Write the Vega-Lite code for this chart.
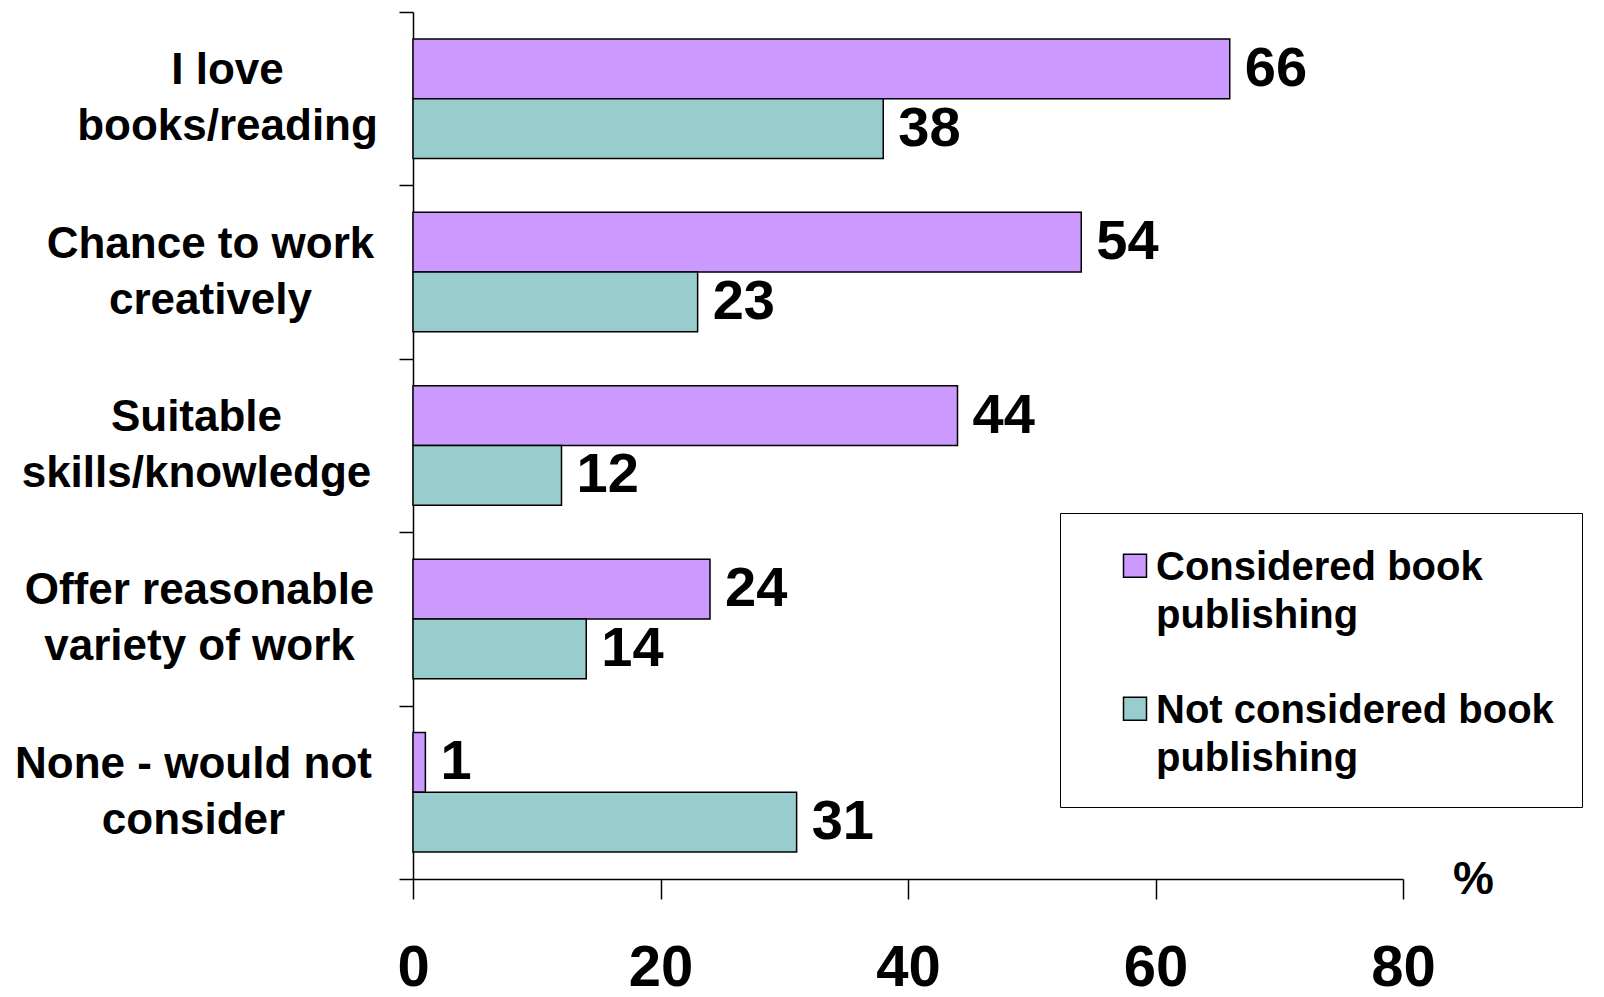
{
  "$schema": "https://vega.github.io/schema/vega-lite/v6.json",
  "autosize": {"type": "none"},
  "padding": {"left": 413, "top": 12, "right": 201, "bottom": 118},
  "width": 990,
  "height": 867,
  "background": "white",
  "config": {
    "view": {"stroke": null},
    "font": "Liberation Sans",
    "axis": {"labelFont": "Liberation Sans", "titleFont": "Liberation Sans", "labelColor": "black", "titleColor": "black", "domainColor": "black", "tickColor": "black", "grid": false},
    "legend": {"labelFont": "Liberation Sans"}
  },
  "data": {
    "values": [
      {"reason": "I love books/reading", "group": "Considered book publishing", "pct": 66},
      {"reason": "I love books/reading", "group": "Not considered book publishing", "pct": 38},
      {"reason": "Chance to work creatively", "group": "Considered book publishing", "pct": 54},
      {"reason": "Chance to work creatively", "group": "Not considered book publishing", "pct": 23},
      {"reason": "Suitable skills/knowledge", "group": "Considered book publishing", "pct": 44},
      {"reason": "Suitable skills/knowledge", "group": "Not considered book publishing", "pct": 12},
      {"reason": "Offer reasonable variety of work", "group": "Considered book publishing", "pct": 24},
      {"reason": "Offer reasonable variety of work", "group": "Not considered book publishing", "pct": 14},
      {"reason": "None - would not consider", "group": "Considered book publishing", "pct": 1},
      {"reason": "None - would not consider", "group": "Not considered book publishing", "pct": 31}
    ]
  },
  "encoding": {
    "y": {
      "field": "reason",
      "type": "nominal",
      "sort": ["I love books/reading", "Chance to work creatively", "Suitable skills/knowledge", "Offer reasonable variety of work", "None - would not consider"],
      "scale": {"paddingInner": 0, "paddingOuter": 0},
      "axis": {
        "title": null,
        "domainWidth": 1.5,
        "tickWidth": 1.5,
        "tickSize": 14,
        "tickBand": "extent",
        "labelFontSize": 44,
        "labelFontWeight": "bold",
        "labelLineHeight": 56,
        "labelAlign": "center",
        "labelBaseline": "middle",
        "labelOffset": -28,
        "labelLimit": 1000,
        "labelPadding": {
          "condition": [
            {"test": "datum.value == 'I love books/reading'", "value": 172},
            {"test": "datum.value == 'Chance to work creatively'", "value": 189},
            {"test": "datum.value == 'Suitable skills/knowledge'", "value": 203},
            {"test": "datum.value == 'Offer reasonable variety of work'", "value": 200}
          ],
          "value": 206
        },
        "labelExpr": "datum.value == 'I love books/reading' ? ['I love', 'books/reading'] : datum.value == 'Chance to work creatively' ? ['Chance to work', 'creatively'] : datum.value == 'Suitable skills/knowledge' ? ['Suitable', 'skills/knowledge'] : datum.value == 'Offer reasonable variety of work' ? ['Offer reasonable', 'variety of work'] : datum.value == 'None - would not consider' ? ['None - would not', 'consider'] : ''"
      }
    },
    "yOffset": {
      "field": "group",
      "type": "nominal",
      "sort": ["Considered book publishing", "Not considered book publishing"],
      "scale": {"paddingInner": 0, "paddingOuter": 0.451}
    },
    "x": {
      "field": "pct",
      "type": "quantitative",
      "scale": {"domain": [0, 80], "nice": false},
      "axis": {
        "values": [0, 20, 40, 60, 80],
        "title": "%",
        "titleFontSize": 46,
        "titleFontWeight": "bold",
        "titleX": 1060,
        "titleY": 0,
        "titleAlign": "center",
        "titleBaseline": "middle",
        "titleAnchor": null,
        "domainWidth": 1.5,
        "tickWidth": 1.5,
        "tickSize": 20,
        "labelFontSize": 58,
        "labelFontWeight": "bold",
        "labelPadding": 40,
        "labelFlush": false,
        "labelOverlap": false
      }
    }
  },
  "layer": [
    {
      "mark": {"type": "bar", "stroke": "black", "strokeWidth": 1.5},
      "encoding": {
        "color": {
          "field": "group",
          "type": "nominal",
          "sort": ["Considered book publishing", "Not considered book publishing"],
          "scale": {"range": ["#CC99FF", "#99CCCC"]},
          "legend": {
            "title": " ",
            "titleFontSize": 1,
            "titlePadding": 18,
            "orient": "none",
            "legendX": 647,
            "legendY": 501,
            "strokeColor": "black",
            "fillColor": "white",
            "padding": 28,
            "symbolType": "M-1,-2.24H1V-0.24H-1Z",
            "symbolSize": 529,
            "symbolStrokeColor": "black",
            "symbolOffset": 27,
            "labelOffset": 1,
            "labelFontSize": 40,
            "labelFontWeight": "bold",
            "labelColor": "black",
            "labelBaseline": "alphabetic",
            "labelLimit": 1000,
            "rowPadding": 55,
            "labelExpr": "datum.label == 'Considered book publishing' ? ['Considered book', 'publishing'] : ['Not considered book', 'publishing']",
            "encode": {"labels": {"update": {"lineHeight": {"value": 48}}}}
          }
        }
      }
    },
    {
      "mark": {"type": "text", "align": "left", "baseline": "middle", "dx": 15, "fontSize": 56, "fontWeight": "bold", "color": "black"},
      "encoding": {"text": {"field": "pct", "type": "quantitative"}}
    }
  ]
}
